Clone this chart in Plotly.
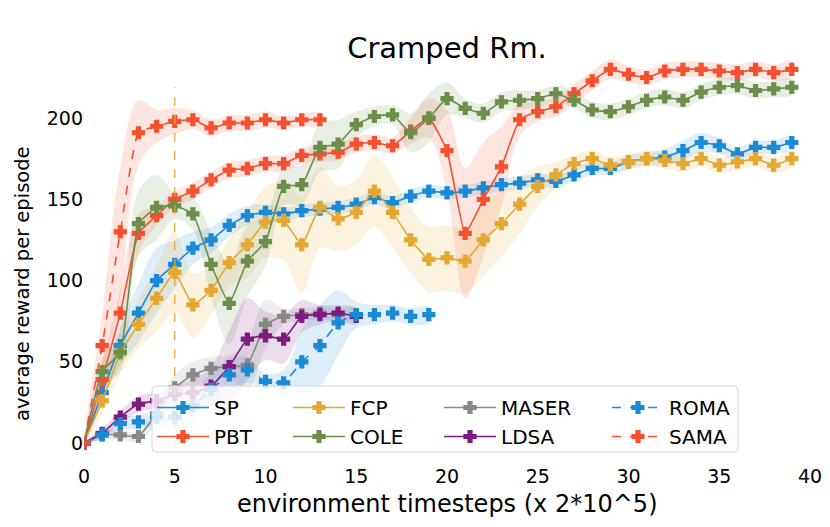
import plotly.graph_objects as go

# ---------------- data ----------------
steps = list(range(40))

sp = [0, 31, 60, 80, 100, 110, 120, 125, 134, 140, 142, 141, 143, 144, 145, 147, 151, 148, 152, 155,
      154, 155, 157, 159, 160, 162, 161, 165, 169, 169, 173, 175, 176, 180, 185, 183, 178, 182, 182, 185]
sp_std = [0, 6, 12, 18, 20, 15, 10, 8, 7, 6, 5, 4, 4, 4, 4, 4, 4, 4, 4, 4,
          4, 4, 4, 4, 4, 4, 4, 4, 4, 4, 4, 4, 5, 6, 6, 5, 4, 4, 4, 4]

pbt = [0, 39, 80, 129, 140, 150, 155, 162, 168, 169, 172, 172, 177, 178, 179, 184, 185, 183, 192, 200,
       180, 129, 150, 170, 199, 204, 207, 215, 223, 230, 227, 225, 229, 230, 230, 229, 228, 230, 228, 230]
pbt_std = [0, 10, 15, 12, 6, 5, 5, 5, 5, 5, 5, 5, 5, 5, 5, 5, 5, 5, 8, 12,
           25, 40, 35, 25, 10, 6, 6, 6, 6, 6, 5, 5, 5, 5, 5, 5, 5, 5, 5, 5]

fcp = [0, 26, 55, 73, 89, 105, 85, 94, 111, 122, 136, 137, 122, 145, 138, 142, 155, 142, 125, 113,
       114, 112, 125, 135, 147, 158, 165, 172, 175, 171, 173, 175, 174, 172, 175, 171, 173, 175, 171, 175]
fcp_std = [0, 8, 12, 15, 20, 25, 20, 15, 15, 20, 22, 25, 30, 25, 20, 20, 22, 22, 20, 20,
           20, 20, 22, 20, 18, 12, 8, 5, 5, 5, 5, 5, 5, 5, 5, 5, 5, 5, 5, 5]

cole = [0, 44, 56, 135, 145, 146, 141, 110, 86, 112, 124, 158, 159, 182, 184, 196, 201, 202, 191, 200,
        212, 206, 203, 210, 211, 212, 215, 211, 205, 204, 207, 211, 213, 211, 216, 219, 220, 217, 218, 219]
cole_std = [0, 8, 12, 20, 20, 8, 10, 20, 25, 22, 15, 12, 12, 15, 15, 8, 6, 6, 12, 15,
            10, 6, 6, 6, 6, 5, 5, 5, 5, 5, 5, 5, 5, 5, 5, 5, 5, 5, 5, 5]

maser = [0, 5, 5, 4, 18, 34, 42, 46, 47, 48, 73, 78, 79, 80, 79, 79]
maser_std = [0, 3, 3, 3, 6, 8, 8, 7, 7, 15, 15, 5, 4, 4, 4, 4]

ldsa = [0, 6, 16, 24, 26, 30, 31, 35, 47, 64, 66, 64, 78, 79, 80, 78]
ldsa_std = [0, 3, 4, 5, 5, 6, 8, 12, 22, 25, 15, 15, 10, 6, 5, 5]

roma = [0, 5, 12, 13, 16, 16, 23, 33, 42, 45, 38, 37, 50, 60, 74, 79, 79, 80, 78, 79]
roma_std = [0, 3, 4, 4, 5, 6, 8, 10, 10, 8, 5, 8, 20, 25, 20, 8, 6, 5, 5, 5]

sama = [0, 60, 130, 191, 195, 198, 199, 194, 197, 197, 199, 197, 199, 199]
sama_std = [0, 20, 40, 20, 10, 8, 6, 5, 5, 5, 5, 4, 4, 4]

# name, mean, std, colour, dash, legend column
series = [
    ("SP", sp, sp_std, (26, 138, 212), "solid", "legend"),
    ("PBT", pbt, pbt_std, (245, 80, 47), "solid", "legend"),
    ("FCP", fcp, fcp_std, (228, 168, 50), "solid", "legend2"),
    ("COLE", cole, cole_std, (107, 142, 74), "solid", "legend2"),
    ("MASER", maser, maser_std, (136, 136, 136), "solid", "legend3"),
    ("LDSA", ldsa, ldsa_std, (126, 27, 128), "solid", "legend3"),
    ("ROMA", roma, roma_std, (26, 138, 212), "dash", "legend4"),
    ("SAMA", sama, sama_std, (245, 80, 47), "dash", "legend4"),
]

fig = go.Figure()

# shaded bands first
for name, mean, std, c, dash, lg in series:
    xs = steps[:len(mean)]
    upper = [m + s for m, s in zip(mean, std)]
    lower = [m - s for m, s in zip(mean, std)]
    fig.add_trace(go.Scatter(
        x=xs + xs[::-1], y=upper + lower[::-1],
        fill="toself", fillcolor="rgba(%d,%d,%d,0.15)" % c,
        line=dict(width=0, shape="spline", smoothing=1.0),
        mode="lines", hoverinfo="skip", showlegend=False))

for name, mean, std, c, dash, lg in series:
    col = "rgb(%d,%d,%d)" % c
    fig.add_trace(go.Scatter(
        x=steps[:len(mean)], y=mean, name=name, legend=lg,
        mode="lines+markers",
        line=dict(color=col, width=1.6, dash=dash, shape="spline", smoothing=0.4),
        marker=dict(symbol="cross", size=10, color=col, line=dict(color=col, width=1.2))))

# vertical marker line at x=5
fig.add_shape(type="line", x0=5, x1=5, y0=-3, y1=219, xref="x", yref="y",
              line=dict(color="#e8a838", width=1.3, dash="dash"), layer="above")

# page has an 8px body margin, so the figure is 8px smaller and everything is
# placed 8px up/left. plot area in page px: x 84..810, y 58..463
W, H = 726.0, 405.0
px0, px1, py0, py1 = (152 - 84) / W, (738 - 84) / W, (463 - 452) / H, (463 - 386) / H
rx, ry = 4 / W, 4 / H
path = (f"M {px0+rx},{py0} L {px1-rx},{py0} Q {px1},{py0} {px1},{py0+ry} "
        f"L {px1},{py1-ry} Q {px1},{py1} {px1-rx},{py1} L {px0+rx},{py1} "
        f"Q {px0},{py1} {px0},{py1-ry} L {px0},{py0+ry} Q {px0},{py0} {px0+rx},{py0} Z")
fig.add_shape(type="path", path=path, xref="paper", yref="paper",
              fillcolor="rgba(255,255,255,0.8)", line=dict(color="#d6d6d6", width=1), layer="above")

leg_font = dict(family="DejaVu Sans", size=20, color="black")
leg_y = (463 - 388) / H
for key, px in [("legend", 152), ("legend2", 288), ("legend3", 439), ("legend4", 607)]:
    fig.update_layout({key: dict(x=(px - 84) / W, y=leg_y, xanchor="left", yanchor="top",
                                 bgcolor="rgba(0,0,0,0)", borderwidth=0, font=leg_font,
                                 orientation="v", itemwidth=52, tracegroupgap=0)})

fig.update_layout(
    width=822, height=519,
    margin=dict(l=76, r=20, t=50, b=64),
    plot_bgcolor="white", paper_bgcolor="white",
    font=dict(family="DejaVu Sans", color="black"),
    title=dict(text="Cramped Rm.", x=439 / 822, xanchor="center",
               y=1 - 40 / 519, yanchor="middle",
               font=dict(family="DejaVu Sans", size=29, color="black")),
)
fig.add_annotation(text="environment timesteps (x 2*10^5)", xref="paper", yref="paper",
                   x=0.5, y=(463 - 504) / H, xanchor="center", yanchor="middle",
                   showarrow=False, font=dict(size=24, family="DejaVu Sans", color="black"))
fig.add_annotation(text="average reward per episode", xref="paper", yref="paper",
                   x=(22 - 84) / W, y=(463 - 284) / H, xanchor="center", yanchor="middle",
                   textangle=-90, showarrow=False,
                   font=dict(size=19.5, family="DejaVu Sans", color="black"))

fig.update_xaxes(range=[0, 40], tickvals=[0, 5, 10, 15, 20, 25, 30, 35, 40],
                 showgrid=False, zeroline=False, showline=False, ticks="", automargin=False,
                 tickfont=dict(size=19, family="DejaVu Sans"))
fig.update_yaxes(range=[-12.3, 237], tickvals=[0, 50, 100, 150, 200],
                 showgrid=False, zeroline=False, showline=False, ticks="", automargin=False,
                 tickfont=dict(size=19, family="DejaVu Sans"))

fig.write_html("out.html")
